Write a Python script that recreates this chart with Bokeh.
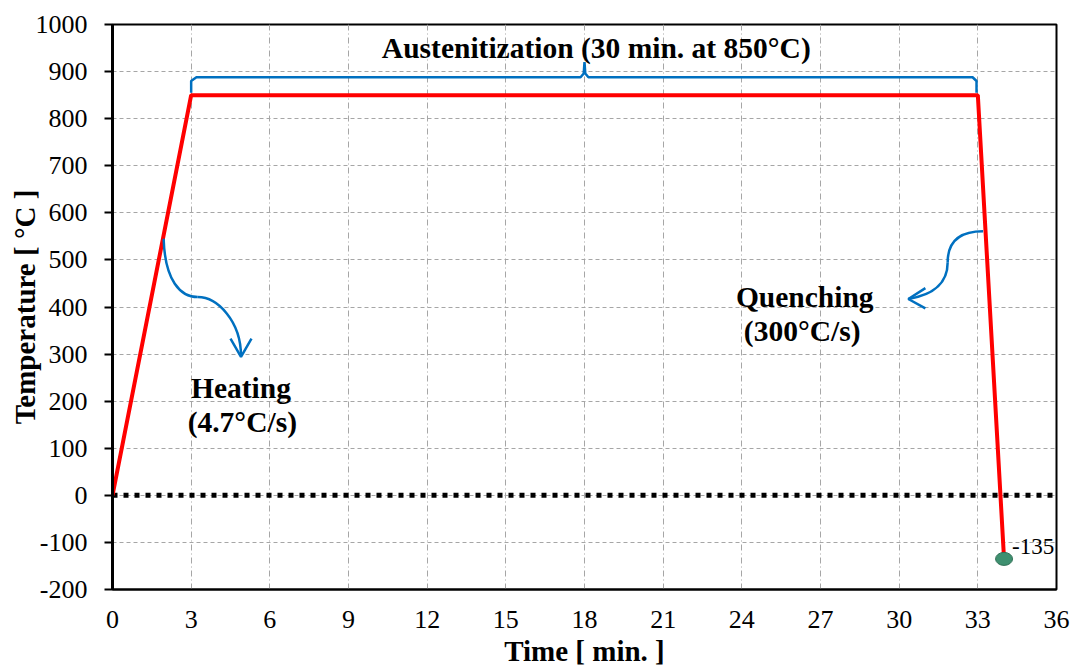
from bokeh.plotting import figure
from bokeh.models import FixedTicker, Range1d, PrintfTickFormatter
from bokeh.core.properties import value
from bokeh.embed import file_html
from bokeh.resources import INLINE

# Heat-treatment cycle: time [min] vs temperature [°C]
time_min = [0, 3, 33, 34]
temp_c = [0, 850, 850, -135]

# Final (sub-zero) point and its label
end_time = [34]
end_temp = [-135]
end_label = ["-135"]

x_ticks = list(range(0, 37, 3))
y_ticks = list(range(-200, 1001, 100))

# Austenitization brace: spans the hold at 850 °C
hold_start, hold_end, hold_mid = 3, 33, 18
brace_low, brace_level, brace_peak = 855, 888, 920

SERIF = value("Liberation Serif")
NOTE_SIZE = "29.5px"

p = figure(width=1076, height=670, output_backend="svg", toolbar_location=None,
           x_range=Range1d(0, 36), y_range=Range1d(-200, 1000),
           min_border_left=112, min_border_right=20, min_border_top=24, min_border_bottom=81)

p.outline_line_color = "black"
p.outline_line_width = 2
p.background_fill_color = "white"
p.border_fill_color = "white"

# grid
p.xgrid.ticker = FixedTicker(ticks=x_ticks)
p.ygrid.ticker = FixedTicker(ticks=y_ticks)
p.xgrid.grid_line_color = "#a6a6a6"
p.xgrid.grid_line_dash = "6 3 1 3"
p.xgrid.grid_line_width = 1
p.ygrid.grid_line_color = "#a6a6a6"
p.ygrid.grid_line_dash = "4 3"
p.ygrid.grid_line_width = 1

# axes
p.xaxis.ticker = FixedTicker(ticks=x_ticks)
p.yaxis.ticker = FixedTicker(ticks=y_ticks)
p.xaxis.formatter = PrintfTickFormatter(format="%d")
p.yaxis.formatter = PrintfTickFormatter(format="%d")
for ax in (p.xaxis[0], p.yaxis[0]):
    ax.axis_line_color = "black"
    ax.major_label_text_font = "Liberation Serif"
    ax.major_label_text_font_size = "26px"
    ax.major_label_text_color = "black"
    ax.axis_label_text_font = "Liberation Serif"
    ax.axis_label_text_font_size = "29px"
    ax.axis_label_text_font_style = "bold"
    ax.axis_label_text_color = "black"
    ax.minor_tick_line_color = None

p.xaxis.axis_line_width = 2
p.xaxis.major_tick_line_color = None
p.xaxis.major_tick_out = 0
p.xaxis.major_tick_in = 0
p.xaxis.major_label_standoff = 21
p.xaxis.axis_label = "Time [ min. ]"
p.xaxis.axis_label_standoff = 4

p.yaxis.axis_line_width = 3
p.yaxis.major_tick_line_color = "black"
p.yaxis.major_tick_line_width = 2
p.yaxis.major_tick_out = 8
p.yaxis.major_tick_in = 0
p.yaxis.major_label_standoff = 17
p.yaxis.axis_label = "Temperature [ °C ]"
p.yaxis.axis_label_standoff = -8

# zero reference line
p.line([0, 36], [0, 0], line_color="black", line_width=5, line_dash="5 6")

# temperature profile
p.line(time_min, temp_c, line_color="#ff0000", line_width=4)

# final point
p.ellipse(x=end_time, y=end_temp, width=17, height=13, width_units="screen",
          height_units="screen", fill_color="#3f9070", line_color="#2f6f55", line_width=1)
p.text(x=end_time, y=end_temp, text=end_label, x_offset=8, y_offset=-12,
       text_font=SERIF, text_font_size="23px", text_color="black",
       text_align="left", text_baseline="middle")

# brace over the hold
bx = [hold_start, hold_start, hold_start + 0.2, hold_mid - 0.15, hold_mid - 0.03, hold_mid,
      hold_mid + 0.03, hold_mid + 0.15, hold_end - 0.2, hold_end - 0.05, hold_end - 0.05]
by = [brace_low, brace_level - 8, brace_level, brace_level, brace_level + 8, brace_peak,
      brace_level + 8, brace_level, brace_level, brace_level - 8, brace_low]
p.line(bx, by, line_color="#0070c0", line_width=2.5)

p.text(x=[hold_mid + 0.45], y=[950], text=["Austenitization (30 min. at 850°C)"],
       text_font=SERIF, text_font_style="bold", text_font_size=NOTE_SIZE,
       text_color="black", text_align="center", text_baseline="middle")

# heating arrow
p.bezier(x0=[1.95, 3.25], y0=[545, 421], x1=[3.25, 4.9], y1=[421, 296],
         cx0=[2.0, 4.0], cy0=[455, 421], cx1=[2.6, 4.9], cy1=[421, 370],
         line_color="#0070c0", line_width=2.5)
p.line([4.5, 4.9, 5.3], [333, 294, 333], line_color="#0070c0", line_width=2.5)

p.text(x=[4.9, 4.95], y=[227, 155], text=["Heating", "(4.7°C/s)"],
       text_font=SERIF, text_font_style="bold", text_font_size=NOTE_SIZE,
       text_color="black", text_align="center", text_baseline="middle")

# quenching arrow
p.bezier(x0=[33.2, 31.85], y0=[561, 495], x1=[31.85, 30.35], y1=[495, 417],
         cx0=[32.3, 31.85], cy0=[561, 445], cx1=[31.85, 31.2], cy1=[540, 425],
         line_color="#0070c0", line_width=2.5)
p.line([31.0, 30.35, 31.0], [440, 417, 397], line_color="#0070c0", line_width=2.5)

p.text(x=[26.4, 26.3], y=[422, 350], text=["Quenching", "(300°C/s)"],
       text_font=SERIF, text_font_style="bold", text_font_size=NOTE_SIZE,
       text_color="black", text_align="center", text_baseline="middle")

open("out.html", "w").write(file_html(p, INLINE))
